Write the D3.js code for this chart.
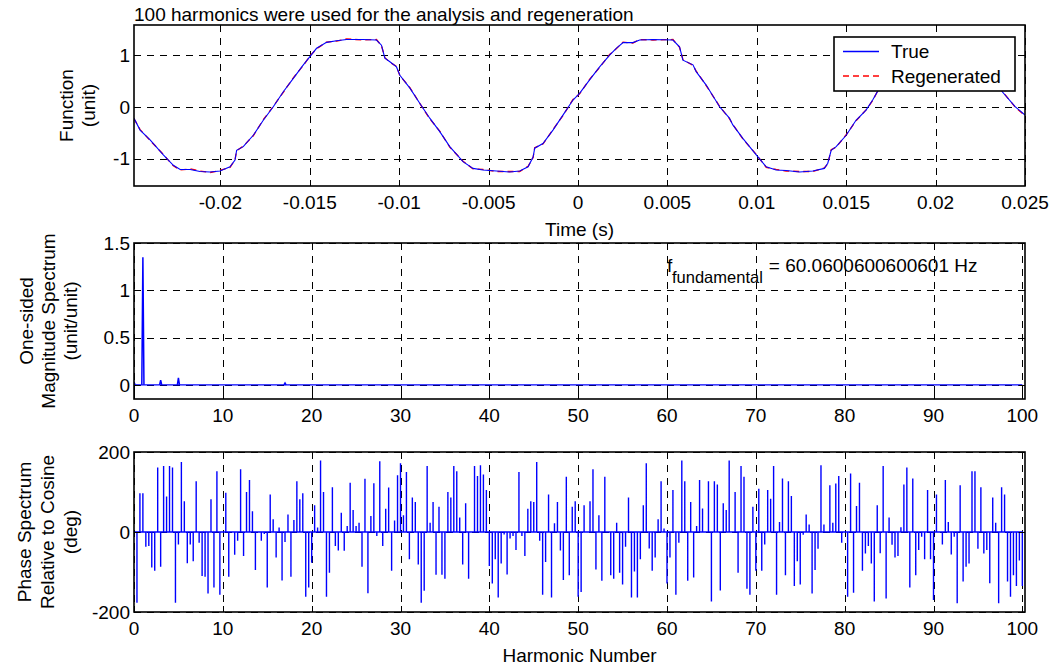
<!DOCTYPE html>
<html><head><meta charset="utf-8">
<script src="https://cdn.jsdelivr.net/npm/d3@7"></script>
<style>
body{margin:0;background:#fff}
text{font-family:"Liberation Sans",Arial,Helvetica,sans-serif;fill:#000}
</style>
</head><body>
<svg id="chart" width="1053" height="665"></svg>
<script>
// ---------------- DATA ----------------
const titleText = "100 harmonics were used for the analysis and regeneration";
const fundamentalText = "= 60.0600600600601 Hz";

// time in milliseconds, function values (unit)
const timeMs = [-24.83,-24.49,-23.93,-23.19,-22.63,-22.25,-21.69,-21.14,-20.58,-20.02,-19.46,-19.18,-19.09,-18.72,-18.16,-17.60,-17.04,-16.48,-15.92,-15.36,-14.97,-14.62,-14.06,-13.50,-12.94,-12.01,-11.27,-10.99,-10.80,-10.52,-10.15,-9.96,-9.40,-8.84,-8.29,-7.73,-7.17,-6.43,-5.87,-5.31,-4.56,-3.82,-3.26,-2.79,-2.51,-2.42,-1.96,-1.40,-0.84,-0.28,0.09,0.65,1.21,1.77,2.14,2.52,3.07,3.45,4.19,5.31,5.68,5.87,6.43,6.61,7.17,7.92,8.47,8.66,9.22,9.97,10.53,11.08,11.64,12.39,13.13,13.78,13.97,14.16,14.44,15.00,15.55,16.11,16.48,16.86,17.38,17.94,18.33,18.68,19.24,19.80,20.36,21.29,22.03,22.31,22.50,22.78,23.15,23.34,23.73,24.46,25.00];
const trueVals = [-0.22,-0.45,-0.64,-0.93,-1.13,-1.21,-1.21,-1.25,-1.26,-1.24,-1.16,-1.03,-0.84,-0.77,-0.55,-0.26,0.00,0.29,0.55,0.81,0.98,1.13,1.245,1.277,1.30,1.30,1.29,1.19,0.94,0.87,0.77,0.61,0.36,0.065,-0.22,-0.48,-0.77,-1.06,-1.19,-1.22,-1.24,-1.26,-1.24,-1.16,-0.97,-0.80,-0.71,-0.45,-0.16,0.13,0.26,0.52,0.77,1.00,1.13,1.24,1.24,1.29,1.30,1.29,1.16,0.90,0.81,0.68,0.42,0.00,-0.22,-0.35,-0.61,-0.93,-1.16,-1.22,-1.23,-1.26,-1.24,-1.19,-1.09,-0.84,-0.77,-0.55,-0.26,-0.065,0.13,0.36,0.55,0.81,0.98,1.13,1.245,1.277,1.30,1.30,1.29,1.19,0.94,0.87,0.77,0.61,0.29,0.00,-0.16];
const regenVals = [-0.23,-0.44,-0.65,-0.92,-1.14,-1.22,-1.20,-1.24,-1.27,-1.23,-1.17,-1.02,-0.85,-0.76,-0.56,-0.25,0.01,0.28,0.56,0.80,0.99,1.12,1.25,1.27,1.31,1.29,1.30,1.18,0.95,0.86,0.78,0.60,0.37,0.06,-0.23,-0.47,-0.78,-1.05,-1.20,-1.21,-1.25,-1.25,-1.25,-1.15,-0.98,-0.79,-0.72,-0.44,-0.17,0.14,0.25,0.53,0.76,1.01,1.12,1.25,1.23,1.30,1.29,1.30,1.15,0.91,0.80,0.69,0.41,0.01,-0.23,-0.34,-0.62,-0.92,-1.17,-1.21,-1.24,-1.25,-1.25,-1.18,-1.10,-0.83,-0.78,-0.54,-0.27,-0.06,0.12,0.37,0.56,0.80,0.99,1.12,1.25,1.27,1.31,1.29,1.30,1.18,0.95,0.86,0.78,0.60,0.30,-0.01,-0.17];

const timeTicks = [-0.02,-0.015,-0.01,-0.005,0,0.005,0.01,0.015,0.02,0.025];
const funcTicks = [-1,0,1];
const harmTicks = [0,10,20,30,40,50,60,70,80,90,100];
const magTicks = [0,0.5,1,1.5];
const phaseTicks = [-200,0,200];

// one-sided magnitude spectrum (non-negligible lines)
const magHarm = [0,1,3,5,17];
const magVals = [0.03,1.35,0.048,0.074,0.02];

// phase spectrum, one value per FFT bin (3 bins per harmonic), bins 0..300
const binsPerHarmonic = 3;
const phaseVals = [
0,-177,97,97,-37,-35,-89,-97,161,-87,165,89,165,161,-177,-31,175,77,-78,-31,
-73,127,-27,-110,-112,-154,82,-139,152,-157,0,98,-112,0,-57,-22,157,-60,100,130,
52,-95,0,-22,-5,-139,94,32,-64,11,-121,-25,44,-112,30,127,82,97,-162,-139,
-77,67,11,179,100,-162,-102,112,-35,-46,48,-47,15,123,55,15,23,-87,133,-153,
40,122,-10,177,-35,58,111,-97,29,142,172,42,150,-68,86,75,-81,-177,-147,165,
23,75,-107,63,-107,-117,100,86,165,152,36,-81,72,-117,0,165,140,167,144,105,
-85,-129,-68,-164,-79,-6,-106,-16,-10,-45,150,-10,-60,58,77,75,175,-22,-157,-75,
94,-164,22,75,-46,-120,138,-108,63,77,-162,-150,67,0,77,157,-94,42,-122,138,
0,-108,-117,23,-102,-131,-37,86,-164,-99,-164,-68,67,172,-41,-97,-64,32,127,9,
-129,-64,105,-157,-27,179,127,-122,75,-114,15,130,59,0,127,-174,127,119,-146,72,
55,179,0,100,-102,165,138,-142,-157,63,-97,108,-97,-31,105,83,165,-157,25,134,
-108,127,90,-135,-73,-131,-7,44,19,-154,-95,-42,167,19,0,117,23,121,140,-27,
0,-162,146,-152,65,123,-97,-54,-35,-79,-174,67,-53,165,-166,36,-32,-64,-60,12,
119,161,-139,134,-108,-45,-12,-68,105,-68,-170,94,0,-31,130,25,-56,-12,-178,117,
-124,-87,-79,152,152,-42,112,-54,-45,-128,86,23,-178,112,94,-124,-162,-108,-135,-71,
-135];

// ---------------- LAYOUT ----------------
const svg = d3.select("#chart");
const FS = 19;
const L = 134, R = 1025;
const panels = {
  top: {y0: 25, y1: 186},
  mid: {y0: 243, y1: 399},
  bot: {y0: 452, y1: 612}
};
const BLUE = "#0000ff", RED = "#ff0000";

const xt = d3.scaleLinear().domain([-0.02483, 0.025]).range([L, R]);
const yf = d3.scaleLinear().domain([-1.53, 1.58]).range([panels.top.y1, panels.top.y0]);
const xh = d3.scaleLinear().domain([0, 100.3]).range([L, R]);
const ym = d3.scaleLinear().domain([-0.15, 1.5]).range([panels.mid.y1, panels.mid.y0]);
const yp = d3.scaleLinear().domain([-200, 200]).range([panels.bot.y1, panels.bot.y0]);

const defs = svg.append("defs");
function clip(id, p){
  defs.append("clipPath").attr("id", id).append("rect")
    .attr("x", L).attr("y", p.y0).attr("width", R - L).attr("height", p.y1 - p.y0);
}
clip("cTop", panels.top); clip("cMid", panels.mid); clip("cBot", panels.bot);

function grid(p, xs, xticks, ys, yticks){
  const g = svg.append("g").attr("stroke", "#000").attr("stroke-width", 1)
    .attr("stroke-dasharray", "7,6").attr("fill", "none");
  xticks.forEach(v => {
    const x = Math.round(xs(v)) + 0.5;
    g.append("line").attr("x1", x).attr("x2", x).attr("y1", p.y0).attr("y2", p.y1);
  });
  yticks.forEach(v => {
    const y = Math.round(ys(v)) + 0.5;
    g.append("line").attr("x1", L).attr("x2", R).attr("y1", y).attr("y2", y);
  });
}

function frame(p, xs, xticks, xfmt, ys, yticks, yfmt){
  const g = svg.append("g");
  const tk = g.append("g").attr("stroke", "#000").attr("stroke-width", 1);
  xticks.forEach(v => {
    const x = Math.round(xs(v)) + 0.5;
    tk.append("line").attr("x1", x).attr("x2", x).attr("y1", p.y1).attr("y2", p.y1 - 6);
    tk.append("line").attr("x1", x).attr("x2", x).attr("y1", p.y0).attr("y2", p.y0 + 6);
  });
  yticks.forEach(v => {
    const y = Math.round(ys(v)) + 0.5;
    tk.append("line").attr("x1", L).attr("x2", L + 6).attr("y1", y).attr("y2", y);
    tk.append("line").attr("x1", R).attr("x2", R - 6).attr("y1", y).attr("y2", y);
  });
  g.append("rect").attr("x", L).attr("y", p.y0).attr("width", R - L).attr("height", p.y1 - p.y0)
    .attr("fill", "none").attr("stroke", "#000").attr("stroke-width", 1.6);
  xticks.forEach(v => {
    g.append("text").attr("x", xs(v)).attr("y", p.y1 + 23)
      .attr("text-anchor", "middle").attr("font-size", FS).text(xfmt(v));
  });
  yticks.forEach(v => {
    g.append("text").attr("x", L - 4).attr("y", ys(v)).attr("dy", "0.36em")
      .attr("text-anchor", "end").attr("font-size", FS).text(yfmt(v));
  });
}

function ylabel(lines, xs, yc){
  lines.forEach((s, i) => {
    svg.append("text").attr("transform", `translate(${xs[i]},${yc}) rotate(-90)`)
      .attr("text-anchor", "middle").attr("dominant-baseline", "central")
      .attr("font-size", FS).text(s);
  });
}

// ---------- TOP PANEL ----------
const pT = panels.top;
grid(pT, xt, timeTicks, yf, funcTicks);
const wave = d3.line().x(d => xt(d[0] / 1000)).y(d => yf(d[1]));
const gT = svg.append("g").attr("clip-path", "url(#cTop)");
gT.append("path").datum(timeMs.map((t, i) => [t, regenVals[i]]))
  .attr("d", wave).attr("fill", "none").attr("stroke", RED).attr("stroke-width", 1.3)
  .attr("stroke-dasharray", "6,4");
gT.append("path").datum(timeMs.map((t, i) => [t, trueVals[i]]))
  .attr("d", wave).attr("fill", "none").attr("stroke", BLUE).attr("stroke-width", 1.1);
frame(pT, xt, timeTicks, v => String(v), yf, funcTicks, v => String(v));
svg.append("text").attr("x", L).attr("y", 21).attr("font-size", FS).text(titleText);
svg.append("text").attr("x", (L + R) / 2).attr("y", 236).attr("text-anchor", "middle")
  .attr("font-size", FS).text("Time (s)");
ylabel(["Function", "(unit)"], [66, 88], (pT.y0 + pT.y1) / 2);

// legend
const lg = svg.append("g");
lg.append("rect").attr("x", 834).attr("y", 37).attr("width", 181).attr("height", 54)
  .attr("fill", "#fff").attr("stroke", "#000").attr("stroke-width", 1.6);
lg.append("line").attr("x1", 843).attr("x2", 879).attr("y1", 51.5).attr("y2", 51.5)
  .attr("stroke", BLUE).attr("stroke-width", 1.3);
lg.append("line").attr("x1", 843).attr("x2", 879).attr("y1", 76).attr("y2", 76)
  .attr("stroke", RED).attr("stroke-width", 1.3).attr("stroke-dasharray", "6,4");
lg.append("text").attr("x", 891).attr("y", 51.5).attr("dy", "0.36em").attr("font-size", FS).text("True");
lg.append("text").attr("x", 891).attr("y", 76).attr("dy", "0.36em").attr("font-size", FS).text("Regenerated");

// ---------- MIDDLE PANEL ----------
const pM = panels.mid;
grid(pM, xh, harmTicks, ym, magTicks);
const gM = svg.append("g").attr("clip-path", "url(#cMid)");
gM.append("line").attr("x1", xh(0)).attr("x2", xh(100)).attr("y1", ym(0)).attr("y2", ym(0))
  .attr("stroke", BLUE).attr("stroke-width", 1.3);
const magPts = [];
magHarm.forEach((h, i) => {
  magPts.push([h - 0.12, 0], [h, magVals[i]], [h + 0.12, 0]);
});
const magLine = d3.line().x(d => xh(Math.max(0, d[0]))).y(d => ym(d[1]));
magHarm.forEach((h, i) => {
  gM.append("path").datum(magPts.slice(i * 3, i * 3 + 3)).attr("d", magLine)
    .attr("fill", "none").attr("stroke", BLUE).attr("stroke-width", 1.5);
});
frame(pM, xh, harmTicks, v => String(v), ym, magTicks, v => String(v));
ylabel(["One-sided", "Magnitude Spectrum", "(unit/unit)"], [26, 48, 70], (pM.y0 + pM.y1) / 2);
const ax = xh(60), ay = ym(1.19);
svg.append("text").attr("x", ax).attr("y", ay).attr("font-size", FS).text("f");
const sub = svg.append("text").attr("x", ax + 5).attr("y", ay + 11).attr("font-size", 16.5).text("fundamental");
const subEnd = ax + 5 + sub.node().getComputedTextLength();
svg.append("text").attr("x", subEnd + 6).attr("y", ay).attr("font-size", FS).text(fundamentalText);

// ---------- BOTTOM PANEL ----------
const pB = panels.bot;
grid(pB, xh, harmTicks, yp, phaseTicks);
const gB = svg.append("g").attr("clip-path", "url(#cBot)");
const stemPts = [];
phaseVals.forEach((v, k) => {
  const h = k / binsPerHarmonic;
  stemPts.push([h, 0], [h, v], [h, 0]);
});
const phaseLine = d3.line().x(d => xh(d[0])).y(d => yp(d[1]));
gB.append("path").datum(stemPts).attr("d", phaseLine)
  .attr("fill", "none").attr("stroke", BLUE).attr("stroke-width", 1.4);
frame(pB, xh, harmTicks, v => String(v), yp, phaseTicks, v => String(v));
svg.append("text").attr("x", (L + R) / 2).attr("y", 662).attr("text-anchor", "middle")
  .attr("font-size", FS).text("Harmonic Number");
ylabel(["Phase Spectrum", "Relative to Cosine", "(deg)"], [24, 47, 70], (pB.y0 + pB.y1) / 2);
</script>
</body></html>
